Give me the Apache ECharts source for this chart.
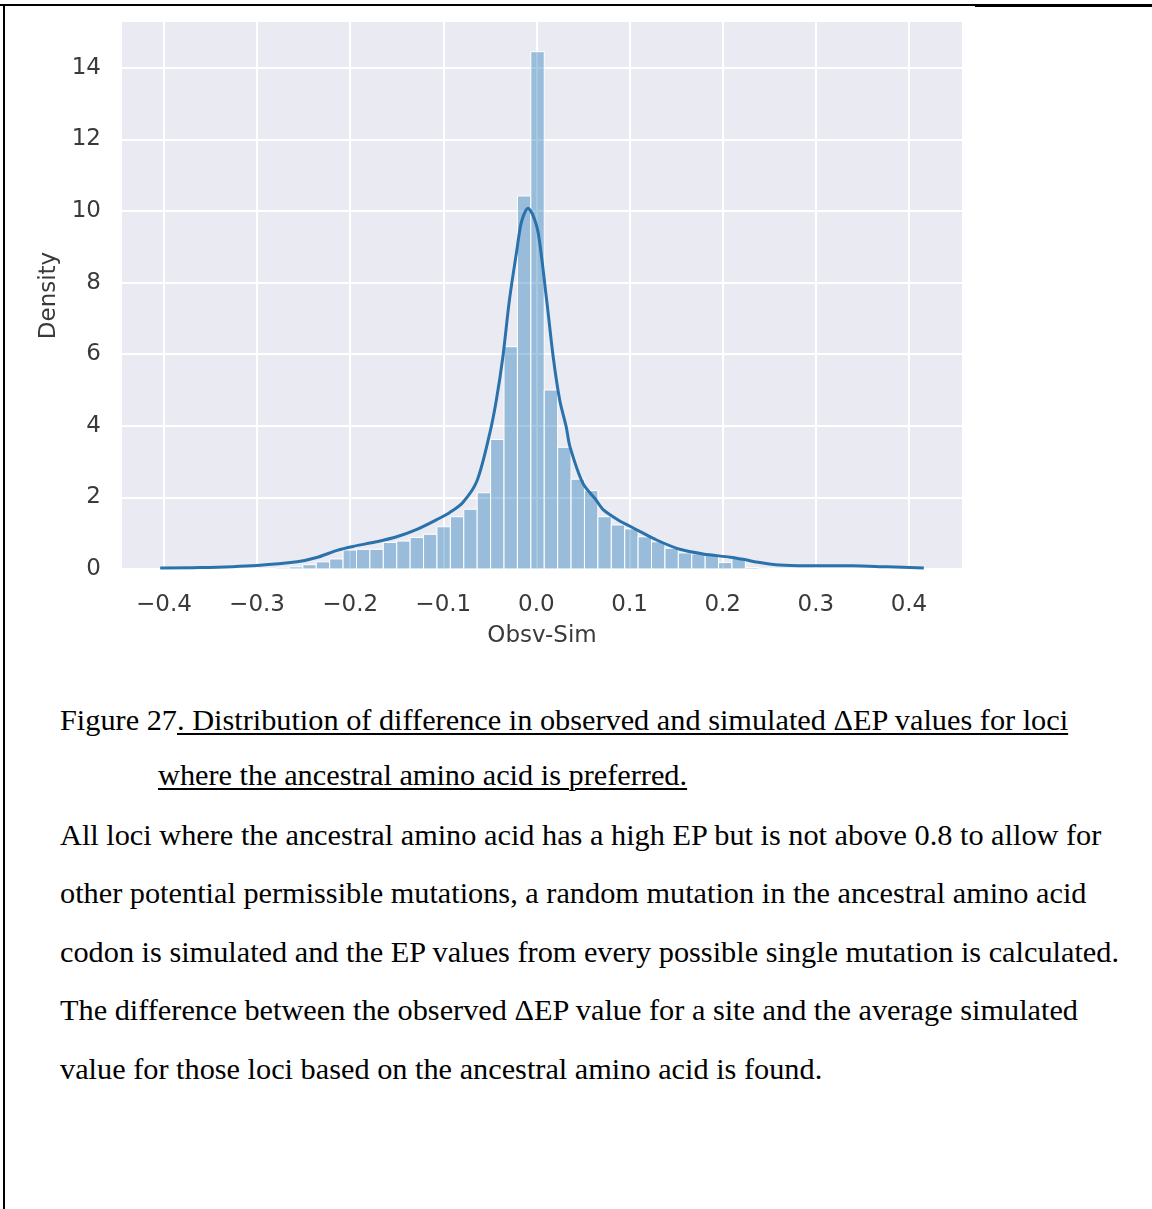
<!DOCTYPE html>
<html>
<head>
<meta charset="utf-8">
<script src="https://cdn.jsdelivr.net/npm/echarts@6/dist/echarts.min.js"></script>
<style>
  html, body { margin: 0; padding: 0; background: #ffffff; }
  #page { position: relative; width: 1152px; height: 1209px; overflow: hidden; background: #fff; }
  #chart { position: absolute; left: 0; top: 0; width: 1152px; height: 680px; }
  .cap { position: absolute; font-family: "Liberation Serif", "Times New Roman", serif; font-size: 30.3px; line-height: 34px; color: #000; white-space: nowrap; }
  .u { text-decoration: underline; text-decoration-thickness: 2px; text-underline-offset: 3px; }
  #bl { position: absolute; left: 3px; top: 4px; width: 2px; height: 1205px; background: #000; }
  #bt1 { position: absolute; left: 0; top: 4px; width: 975px; height: 2px; background: #000; }
  #bt2 { position: absolute; left: 975px; top: 4px; width: 177px; height: 3px; background: #000; }
</style>
</head>
<body>
<div id="page">
  <div id="chart"></div>
  <div id="bl"></div><div id="bt1"></div><div id="bt2"></div>
  <div class="cap" style="left:60px; top:703px;">Figure 27<span class="u">. Distribution of difference in observed and simulated ΔEP values for loci</span></div>
  <div class="cap" style="left:158px; top:758px;"><span class="u">where the ancestral amino acid is preferred.</span></div>
  <div class="cap" style="left:60px; top:818px;">All loci where the ancestral amino acid has a high EP but is not above 0.8 to allow for</div>
  <div class="cap" style="left:60px; top:876px;">other potential permissible mutations, a random mutation in the ancestral amino acid</div>
  <div class="cap" style="left:60px; top:935px;">codon is simulated and the EP values from every possible single mutation is calculated.</div>
  <div class="cap" style="left:60px; top:993px;">The difference between the observed ΔEP value for a site and the average simulated</div>
  <div class="cap" style="left:60px; top:1052px;">value for those loci based on the ancestral amino acid is found.</div>
</div>
<script>
// ---- data ----
const binCenters = [-0.2724, -0.2580, -0.2436, -0.2292, -0.2148, -0.2004, -0.1860, -0.1716, -0.1572, -0.1428,
  -0.1284, -0.1140, -0.0996, -0.0852, -0.0708, -0.0564, -0.0420, -0.0276, -0.0132, 0.0012,
  0.0156, 0.0300, 0.0444, 0.0588, 0.0732, 0.0876, 0.1020, 0.1164, 0.1308, 0.1452,
  0.1596, 0.1740, 0.1884, 0.2028, 0.2172, 0.2316, 0.2460];
const binDensity = [0.03, 0.06, 0.12, 0.20, 0.28, 0.53, 0.55, 0.55, 0.74, 0.78,
  0.88, 0.97, 1.18, 1.46, 1.67, 2.13, 3.62, 6.21, 10.42, 14.45,
  5.00, 3.40, 2.51, 2.19, 1.46, 1.23, 1.12, 0.90, 0.76, 0.58,
  0.45, 0.42, 0.38, 0.18, 0.30, 0.04, 0.02];
const binWidth = 0.0144;
const kdeX = [-0.404, -0.361, -0.300, -0.257, -0.236, -0.214, -0.197, -0.172, -0.150, -0.129,
  -0.107, -0.093, -0.079, -0.064, -0.050, -0.043, -0.036, -0.029, -0.021, -0.016,
  -0.009, -0.004, 0.002, 0.011, 0.018, 0.025, 0.032, 0.036, 0.050, 0.064,
  0.072, 0.089, 0.100, 0.111, 0.129, 0.154, 0.179, 0.208, 0.222, 0.240,
  0.261, 0.290, 0.340, 0.376, 0.416];
const kdeY = [0.03, 0.04, 0.10, 0.20, 0.32, 0.52, 0.63, 0.76, 0.90, 1.10,
  1.38, 1.58, 1.86, 2.45, 3.80, 4.72, 5.93, 7.51, 8.91, 9.70,
  10.08, 9.90, 9.38, 7.51, 5.93, 4.72, 3.97, 3.42, 2.39, 1.93,
  1.65, 1.35, 1.20, 1.05, 0.81, 0.55, 0.42, 0.33, 0.27, 0.18,
  0.11, 0.09, 0.09, 0.06, 0.03];
const xTicks = [-0.4, -0.3, -0.2, -0.1, 0.0, 0.1, 0.2, 0.3, 0.4];
const yTicks = [0, 2, 4, 6, 8, 10, 12, 14];
const xTitle = 'Obsv-Sim';
const yTitle = 'Density';

const histData = binCenters.map((c, i) => [c, binDensity[i]]);
const kdeData = kdeX.map((x, i) => [x, kdeY[i]]);

const chart = echarts.init(document.getElementById('chart'), null, { renderer: 'canvas' });
const labelColor = '#3a3a3a';
const fs = 23;
chart.setOption({
  animation: false,
  backgroundColor: 'transparent',
  grid: { left: 122, right: 190, top: 22, bottom: 111, backgroundColor: '#EAEAF2', show: true, borderWidth: 0 },
  xAxis: {
    type: 'value', min: -0.445, max: 0.457,
    name: xTitle, nameLocation: 'middle', nameGap: 56,
    nameTextStyle: { fontFamily: 'DejaVu Sans', fontSize: fs, color: labelColor },
    axisLine: { show: false },
    axisTick: { show: false, customValues: xTicks },
    axisLabel: { customValues: xTicks, fontFamily: 'DejaVu Sans', fontSize: fs, color: labelColor, margin: 25,
      formatter: v => (v < -1e-9 ? '\u2212' : '') + Math.abs(v).toFixed(1) },
    splitLine: { show: true, lineStyle: { color: '#ffffff', width: 2 } }
  },
  yAxis: {
    type: 'value', min: 0, max: 15.28,
    name: yTitle, nameLocation: 'middle', nameGap: 53, nameRotate: 90,
    nameTextStyle: { fontFamily: 'DejaVu Sans', fontSize: fs, color: labelColor },
    axisLine: { show: false },
    axisTick: { show: false, customValues: yTicks },
    axisLabel: { customValues: yTicks, fontFamily: 'DejaVu Sans', fontSize: fs, color: labelColor, margin: 21 },
    splitLine: { show: true, lineStyle: { color: '#ffffff', width: 2 } }
  },
  series: [
    {
      type: 'custom', z: 2,
      data: histData,
      encode: { x: 0, y: 1 },
      renderItem: function (params, api) {
        const c = api.value(0), h = api.value(1);
        const p0 = api.coord([c - binWidth / 2, h]);
        const p1 = api.coord([c + binWidth / 2, 0]);
        return {
          type: 'rect',
          shape: { x: p0[0], y: p0[1], width: p1[0] - p0[0], height: p1[1] - p0[1] },
          style: { fill: 'rgba(31,119,180,0.4)', stroke: '#ffffff', lineWidth: 1 }
        };
      }
    },
    {
      type: 'line', z: 3,
      data: kdeData,
      showSymbol: false, symbol: 'none',
      smooth: 0.3,
      lineStyle: { color: '#2a72ab', width: 3 }
    }
  ]
});
</script>
</body>
</html>
